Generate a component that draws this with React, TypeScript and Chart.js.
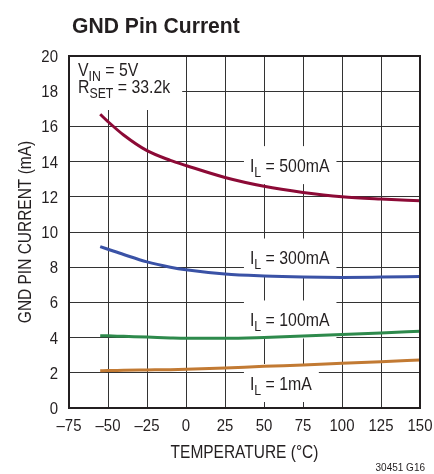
import React, { useEffect, useRef } from "react";
import { Chart, registerables } from "chart.js";

Chart.register(...registerables);

const temps = [-55, -50, -40, -25, -10, 0, 25, 50, 75, 100, 125, 150];
const i500 = [16.69, 16.27, 15.51, 14.62, 14.07, 13.78, 13.1, 12.6, 12.25, 12.0, 11.87, 11.78];
const i300 = [9.17, 9.02, 8.72, 8.3, 8.0, 7.85, 7.61, 7.5, 7.44, 7.42, 7.44, 7.47];
const i100 = [4.11, 4.1, 4.07, 4.03, 3.98, 3.96, 3.96, 4.01, 4.09, 4.17, 4.26, 4.36];
const i1 = [2.12, 2.13, 2.14, 2.16, 2.18, 2.2, 2.27, 2.37, 2.44, 2.54, 2.63, 2.73];

const xTicks = [-75, -50, -25, 0, 25, 50, 75, 100, 125, 150];
const yTicks = [0, 2, 4, 6, 8, 10, 12, 14, 16, 18, 20];

const seriesNames = ["500mA", "300mA", "100mA", "1mA"];
const seriesValues = [i500, i300, i100, i1];
const seriesColors = ["#8c0a36", "#3a52a6", "#2e8a4c", "#c27a33"];
// label anchor (temperature of left edge, current at text middle)
const labelTemps = [41, 41, 41, 41];
const labelValues = [13.8, 8.55, 5.03, 1.42];

const title = "GND Pin Current";
const xTitle = "TEMPERATURE (°C)";
const yTitle = "GND PIN CURRENT (mA)";
const footnote = "30451 G16";

const FONT = "'Liberation Sans', Arial, sans-serif";
const INK = "#231f20";
const GRID = "#333333";
const SX = 0.88; // horizontal condensing of text

function textW(ctx: CanvasRenderingContext2D, t: string, font: string, sx: number) {
  ctx.font = font;
  return ctx.measureText(t).width * sx;
}

function drawText(
  ctx: CanvasRenderingContext2D,
  t: string,
  x: number,
  y: number,
  font: string,
  sx: number,
  align: "left" | "center" | "right" = "left"
) {
  const w = textW(ctx, t, font, sx);
  let left = x;
  if (align === "center") left = x - w / 2;
  if (align === "right") left = x - w;
  ctx.save();
  ctx.font = font;
  ctx.textAlign = "left";
  ctx.textBaseline = "alphabetic";
  ctx.translate(left, y);
  ctx.scale(sx, 1);
  ctx.fillText(t, 0, 0);
  ctx.restore();
  return w;
}

function partsW(ctx: CanvasRenderingContext2D, parts: [string, boolean][], size: number) {
  let w = 0;
  for (const [t, sub] of parts) {
    const s = sub ? Math.round(size * 0.78) : size;
    w += textW(ctx, t, `${s}px ${FONT}`, SX);
  }
  return w;
}

function drawParts(ctx: CanvasRenderingContext2D, x: number, baseline: number, parts: [string, boolean][], size: number) {
  let cx = x;
  for (const [t, sub] of parts) {
    const s = sub ? Math.round(size * 0.78) : size;
    cx += drawText(ctx, t, cx, baseline + (sub ? size * 0.28 : 0), `${s}px ${FONT}`, SX);
  }
  return cx - x;
}

const decorPlugin = {
  id: "decor",
  beforeDatasetsDraw(chart: any) {
    const ctx = chart.ctx as CanvasRenderingContext2D;
    const { chartArea } = chart;
    const xs = chart.scales.x;
    const ys = chart.scales.y;
    ctx.save();
    ctx.fillStyle = INK;
    const size = 18;
    const l1: [string, boolean][] = [["V", false], ["IN", true], [" = 5V", false]];
    const l2: [string, boolean][] = [["R", false], ["SET", true], [" = 33.2k", false]];
    const w = Math.max(partsW(ctx, l1, size), partsW(ctx, l2, size));
    ctx.fillStyle = "#ffffff";
    ctx.fillRect(chartArea.left + 1, chartArea.top + 1, w + 20, 53);
    ctx.fillStyle = INK;
    drawParts(ctx, chartArea.left + 9, chartArea.top + 20, l1, size);
    drawParts(ctx, chartArea.left + 9, chartArea.top + 37, l2, size);
    for (let i = 0; i < seriesNames.length; i++) {
      const parts: [string, boolean][] = [["I", false], ["L", true], [" = " + seriesNames[i], false]];
      const x = xs.getPixelForValue(labelTemps[i]);
      const yc = ys.getPixelForValue(labelValues[i]);
      const tw = partsW(ctx, parts, size);
      ctx.fillStyle = "#ffffff";
      ctx.fillRect(x - 6, yc - 19, tw + 13, 38);
      ctx.fillStyle = INK;
      drawParts(ctx, x, yc + 6.5, parts, size);
    }
    ctx.restore();
  },
  afterDatasetsDraw(chart: any) {
    const ctx = chart.ctx as CanvasRenderingContext2D;
    const { chartArea } = chart;
    ctx.save();
    ctx.strokeStyle = INK;
    ctx.lineWidth = 2;
    ctx.strokeRect(chartArea.left, chartArea.top, chartArea.right - chartArea.left, chartArea.bottom - chartArea.top);
    ctx.restore();
  },
  afterDraw(chart: any) {
    const ctx = chart.ctx as CanvasRenderingContext2D;
    const { chartArea } = chart;
    const xs = chart.scales.x;
    const ys = chart.scales.y;
    ctx.save();
    ctx.fillStyle = INK;
    const tickFont = `17px ${FONT}`;
    for (const v of xTicks) {
      const lbl = v < 0 ? "\u2013" + Math.abs(v) : String(v);
      drawText(ctx, lbl, xs.getPixelForValue(v), chartArea.bottom + 23, tickFont, SX, "center");
    }
    for (const v of yTicks) {
      drawText(ctx, String(v), 58, ys.getPixelForValue(v) + 6, tickFont, SX, "right");
    }
    drawText(ctx, title, 72, 33, `bold 22px ${FONT}`, 0.96, "left");
    drawText(ctx, xTitle, (chartArea.left + chartArea.right) / 2, 458, `18px ${FONT}`, 0.86, "center");
    ctx.save();
    ctx.translate(31, (chartArea.top + chartArea.bottom) / 2);
    ctx.rotate(-Math.PI / 2);
    drawText(ctx, yTitle, 0, 0, `18px ${FONT}`, 0.86, "center");
    ctx.restore();
    drawText(ctx, footnote, 425, 471, `10px ${FONT}`, 1, "right");
    ctx.restore();
  },
};

export default function App() {
  const ref = useRef<HTMLCanvasElement>(null);
  useEffect(() => {
    if (!ref.current) return;
    const datasets = seriesNames.map((n, i) => ({
      label: n,
      data: temps.map((t, j) => ({ x: t, y: seriesValues[i][j] })),
      borderColor: seriesColors[i],
      borderWidth: 3,
      pointRadius: 0,
      fill: false,
      cubicInterpolationMode: "monotone",
    }));
    const chart = new Chart(ref.current, {
      type: "line",
      data: { datasets },
      plugins: [decorPlugin],
      options: {
        responsive: false,
        animation: false,
        layout: { padding: { top: 56, right: 14, left: 0, bottom: 0 } },
        plugins: { legend: { display: false }, tooltip: { enabled: false } },
        scales: {
          x: {
            type: "linear",
            min: -75,
            max: 150,
            afterBuildTicks: (s: any) => {
              s.ticks = xTicks.map((v) => ({ value: v }));
            },
            ticks: { display: false },
            grid: { color: GRID, lineWidth: 1, drawTicks: false },
            border: { display: false },
            afterFit: (s: any) => {
              s.height = 66;
            },
          },
          y: {
            min: 0,
            max: 20,
            afterBuildTicks: (s: any) => {
              s.ticks = yTicks.map((v) => ({ value: v }));
            },
            ticks: { display: false },
            grid: { color: GRID, lineWidth: 1, drawTicks: false },
            border: { display: false },
            afterFit: (s: any) => {
              s.width = 69;
            },
          },
        },
      },
    } as any);
    return () => chart.destroy();
  }, []);
  return (
    <div style={{ position: "absolute", left: 0, top: 0, width: 434, height: 474, background: "#fff" }}>
      <canvas ref={ref} width={434} height={474} style={{ display: "block" }} />
    </div>
  );
}
